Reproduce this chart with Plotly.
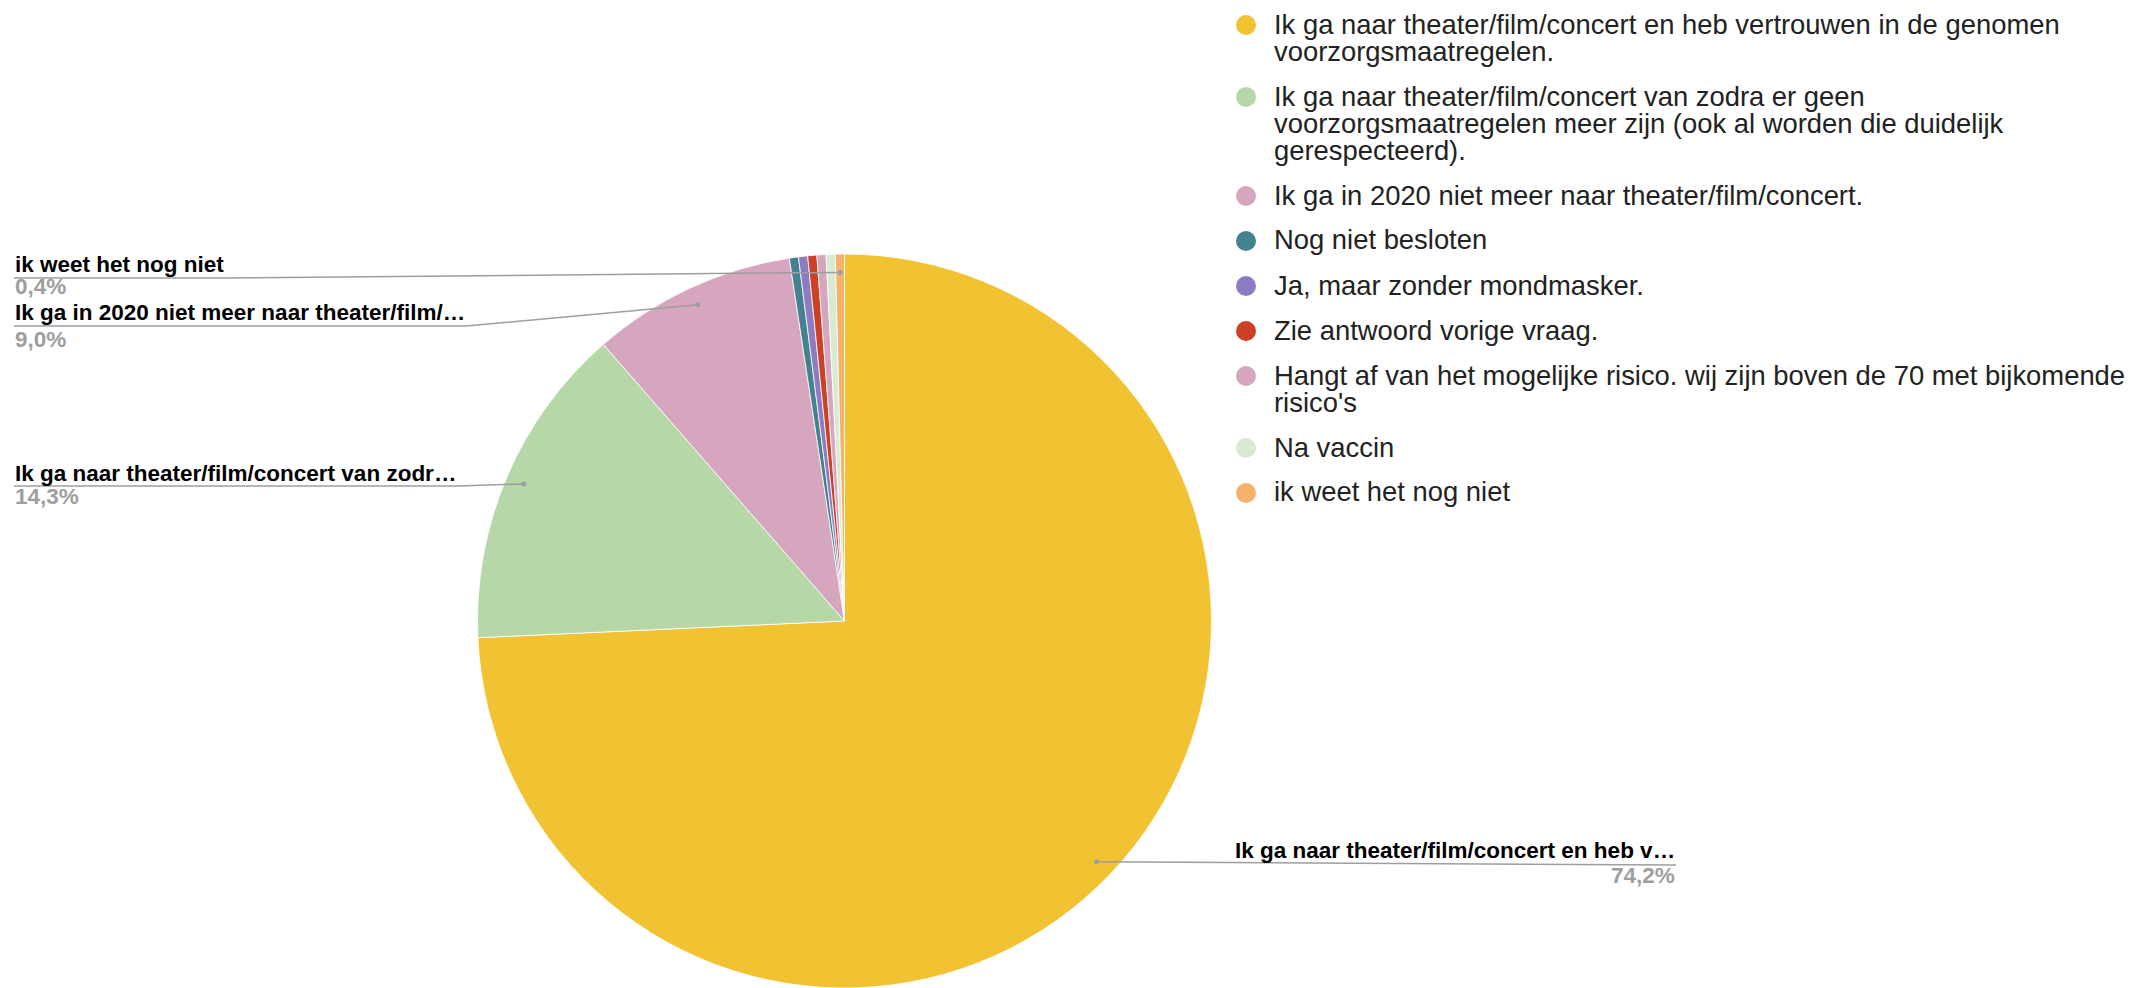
import plotly.graph_objects as go
import math

# ---------------- data ----------------
categories = [
    "Ik ga naar theater/film/concert en heb vertrouwen in de genomen voorzorgsmaatregelen.",
    "Ik ga naar theater/film/concert van zodra er geen voorzorgsmaatregelen meer zijn (ook al worden die duidelijk gerespecteerd).",
    "Ik ga in 2020 niet meer naar theater/film/concert.",
    "Nog niet besloten",
    "Ja, maar zonder mondmasker.",
    "Zie antwoord vorige vraag.",
    "Hangt af van het mogelijke risico. wij zijn boven de 70 met bijkomende risico's",
    "Na vaccin",
    "ik weet het nog niet",
]
values = [74.2, 14.3, 9.0, 0.4, 0.4, 0.4, 0.4, 0.4, 0.4]
colors = ["#f1c232", "#b6d7a8", "#d5a6bd", "#45818e", "#8e7cc3",
          "#cc4125", "#d5a6bd", "#d9ead3", "#f6b26b"]
# slice labels shown next to the pie (truncated as in the original)
slice_label_text = {
    0: "Ik ga naar theater/film/concert en heb v\u2026",
    1: "Ik ga naar theater/film/concert van zodr\u2026",
    2: "Ik ga in 2020 niet meer naar theater/film/\u2026",
    8: "ik weet het nog niet",
}

# ---------------- layout constants ----------------
W, H = 2132, 988
CX, CY, R = 844.5, 621.0, 367.0
FONT = "Arial, Liberation Sans, sans-serif"
LEG_FS = 27.4
LBL_FS = 22.5
LINE_COL = "#9e9e9e"


def px(x):
    return x / W


def py(y):
    return 1 - y / H


# label placement (side, text baseline, underline y, pct baseline, text end / right x)
label_layout = {
    8: ("left", 272, 278, 294, 224),
    2: ("left", 320, 326, 347, 466),
    1: ("left", 481, 486, 504, 458),
    0: ("right", 858, 865, 883, 1676),
}

# approximate Arial advance widths (per 1000 em) for legend wrapping
_w = {}
for c in "ijl|": _w[c] = 222
for c in "ft/I ,.": _w[c] = 278
_w["'"] = 191
for c in "r()": _w[c] = 333
for c in "kcsvxyzJ": _w[c] = 500
for c in "abdeghnopqu0123456789L": _w[c] = 556
for c in "NHwD": _w[c] = 722
for c in "mM": _w[c] = 833
_w["Z"] = 611


def text_w(s, fs):
    return sum(_w.get(c, 600) for c in s) / 1000 * fs


def wrap(s, maxw, fs):
    words = s.split(" ")
    lines, cur = [], ""
    for wd in words:
        cand = wd if not cur else cur + " " + wd
        if text_w(cand, fs) > maxw and cur:
            lines.append(cur)
            cur = wd
        else:
            cur = cand
    lines.append(cur)
    return lines


fig = go.Figure()
fig.add_trace(go.Pie(
    labels=categories,
    values=values,
    sort=False,
    direction="clockwise",
    rotation=0,
    marker=dict(colors=colors, line=dict(color="white", width=0.8)),
    textinfo="none",
    hoverinfo="none",
    showlegend=False,
    domain=dict(x=[px(CX - R), px(CX + R)], y=[py(CY + R), py(CY - R)]),
))

annotations = []
shapes = []

# ---- slice labels with leader lines (anchors computed from values) ----
total = sum(values)
cum = 0.0
mids = []
for v in values:
    mids.append((cum + v / 2) / total)
    cum += v

for idx, (side, base, uy, pbase, xe) in label_layout.items():
    ang = 2 * math.pi * mids[idx]
    ax = CX + 0.95 * R * math.sin(ang)
    ay = CY - 0.95 * R * math.cos(ang)
    pct = f"{values[idx]:.1f}".replace(".", ",") + "%"
    off = 0.3465 * LBL_FS
    if side == "left":
        annotations.append(dict(x=px(13), y=py(base - off), xref="paper", yref="paper",
                                text=slice_label_text[idx], showarrow=False,
                                xanchor="left", yanchor="middle",
                                font=dict(family=FONT, size=LBL_FS, color="#000000", weight="bold")))
        annotations.append(dict(x=px(13), y=py(pbase - off), xref="paper", yref="paper",
                                text=pct, showarrow=False, xanchor="left", yanchor="middle",
                                font=dict(family=FONT, size=LBL_FS, color="#9e9e9e", weight="bold")))
        shapes.append(dict(type="line", xref="paper", yref="paper",
                           x0=px(14), y0=py(uy), x1=px(xe), y1=py(uy),
                           line=dict(color=LINE_COL, width=1.5)))
        shapes.append(dict(type="line", xref="paper", yref="paper",
                           x0=px(xe), y0=py(uy), x1=px(ax), y1=py(ay),
                           line=dict(color=LINE_COL, width=1.5)))
    else:
        annotations.append(dict(x=px(xe + 1), y=py(base - off), xref="paper", yref="paper",
                                text=slice_label_text[idx], showarrow=False,
                                xanchor="right", yanchor="middle",
                                font=dict(family=FONT, size=LBL_FS, color="#000000", weight="bold")))
        annotations.append(dict(x=px(xe + 1), y=py(pbase - off), xref="paper", yref="paper",
                                text=pct, showarrow=False, xanchor="right", yanchor="middle",
                                font=dict(family=FONT, size=LBL_FS, color="#9e9e9e", weight="bold")))
        shapes.append(dict(type="line", xref="paper", yref="paper",
                           x0=px(ax), y0=py(ay), x1=px(xe), y1=py(uy),
                           line=dict(color=LINE_COL, width=1.5)))
    shapes.append(dict(type="circle", xref="paper", yref="paper",
                       x0=px(ax - 2.5), x1=px(ax + 2.5), y0=py(ay + 2.5), y1=py(ay - 2.5),
                       fillcolor=LINE_COL, line=dict(width=0)))

# ---- legend (manual, Google-Charts style) ----
LEG_X_DOT, LEG_X_TXT = 1246, 1272
LEG_Y0, LEG_LINE, LEG_STEP = 25, 27, 45
y = LEG_Y0
for cat, col in zip(categories, colors):
    lines = wrap(cat, 870, LEG_FS)
    shapes.append(dict(type="circle", xref="paper", yref="paper",
                       x0=px(LEG_X_DOT - 10), x1=px(LEG_X_DOT + 10),
                       y0=py(y + 10), y1=py(y - 10),
                       fillcolor=col, line=dict(width=0)))
    for k, ln in enumerate(lines):
        annotations.append(dict(x=px(LEG_X_TXT), y=py(y + k * LEG_LINE - 1),
                                xref="paper", yref="paper", text=ln, showarrow=False,
                                xanchor="left", yanchor="middle",
                                font=dict(family=FONT, size=LEG_FS, color="#222222")))
    y += LEG_STEP + LEG_LINE * (len(lines) - 1)

fig.update_layout(
    width=W, height=H,
    margin=dict(l=0, r=0, t=0, b=0),
    paper_bgcolor="white", plot_bgcolor="white",
    annotations=annotations, shapes=shapes,
)

fig.write_html("out.html",
               config={"displayModeBar": False},
               post_script="document.body.style.margin='0px';document.body.style.overflow='hidden';")
